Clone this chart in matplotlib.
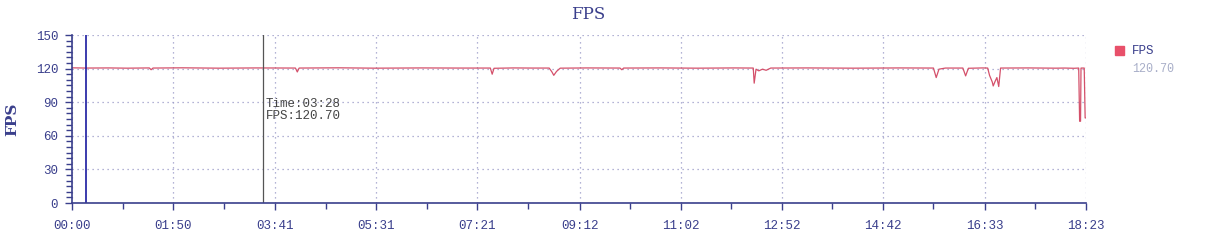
import matplotlib
matplotlib.use('Agg')
import matplotlib.pyplot as plt
from matplotlib.ticker import FixedLocator, MultipleLocator

# FPS samples (seconds since start, frames per second)
times = [0, 15, 40, 60, 84, 86, 88, 120, 160, 200, 243, 245, 247, 290, 330, 380, 420,
         455, 457, 459, 480, 500, 519, 522, 524, 527, 531, 560, 596, 598, 600, 640, 680,
         720, 741, 742, 744, 747, 751, 755, 760, 800, 850, 900, 937, 940, 943, 950,
         969, 972, 975, 990, 996, 998, 1001, 1002, 1004, 1006, 1008, 1010, 1040, 1070,
         1080, 1090, 1095, 1096, 1097, 1097.5, 1101, 1102, 1103]
fps = [120.7, 120.5, 120.6, 120.4, 120.6, 119.0, 120.5, 120.7, 120.4, 120.6, 120.5, 117.0,
       120.5, 120.7, 120.4, 120.6, 120.5, 120.5, 115.0, 120.3, 120.6, 120.5, 120.5, 117.0,
       114.0, 117.5, 120.4, 120.6, 120.5, 119.0, 120.5, 120.6, 120.4, 120.6, 120.5, 107.0,
       119.5, 118.0, 119.5, 118.5, 120.5, 120.6, 120.4, 120.6, 120.5, 112.0, 119.5, 120.5,
       120.5, 113.5, 120.3, 120.6, 120.5, 114.0, 108.0, 104.5, 108.5, 112.0, 104.0, 120.5,
       120.6, 120.4, 120.5, 120.3, 120.5, 73.0, 73.0, 120.5, 120.5, 76.0, 76.0]

tick_secs = [0, 110, 221, 331, 441, 552, 662, 772, 882, 993, 1103]
tick_labels = ['00:00', '01:50', '03:41', '05:31', '07:21', '09:12',
               '11:02', '12:52', '14:42', '16:33', '18:23']
cursor_sec = 208
cursor_fps = 120.70
start_marker = 15

axis_col = '#3a3f8c'
line_col = '#d4506a'

fig = plt.figure(figsize=(12.07, 2.45), dpi=100)
ax = fig.add_axes([0.0597, 0.1714, 0.8401, 0.6857])

ax.plot(times, fps, color=line_col, linewidth=0.9)
ax.axvline(start_marker, color='#1a1aa0', linewidth=1.2)
ax.axvline(cursor_sec, color='#555555', linewidth=0.9)
ax.text(cursor_sec + 3, 94, 'Time:03:28\nFPS:%.2f' % cursor_fps, fontsize=9,
        family='Liberation Mono', color='#444444', va='top', ha='left', linespacing=1.05)

ax.set_xlim(0, 1103)
ax.set_ylim(0, 150)
ax.xaxis.set_major_locator(FixedLocator(tick_secs))
ax.set_xticklabels(tick_labels)
ax.xaxis.set_minor_locator(FixedLocator([55, 165, 276, 386, 496, 607, 717, 827, 937, 1048]))
ax.yaxis.set_major_locator(MultipleLocator(30))
ax.yaxis.set_minor_locator(MultipleLocator(5))

ax.grid(True, which='major', linestyle=(0, (1, 3)), color='#9a9ac8', linewidth=0.9)
for s in ['top', 'right']:
    ax.spines[s].set_visible(False)
for s in ['left', 'bottom']:
    ax.spines[s].set_color(axis_col)
    ax.spines[s].set_linewidth(1.2)

ax.tick_params(which='major', direction='out', color=axis_col, length=5, width=1,
               labelcolor=axis_col, labelsize=9)
ax.tick_params(which='minor', direction='out', color=axis_col, length=4, width=1)
ax.tick_params(axis='x', pad=7)
ax.tick_params(axis='y', pad=5)
for lab in ax.get_xticklabels() + ax.get_yticklabels():
    lab.set_family('Liberation Mono')

ax.set_ylabel('FPS', color=axis_col, fontsize=11, fontweight='bold',
              family='DejaVu Serif', labelpad=12)
fig.text(0.4875, 0.94, 'FPS', color=axis_col, fontsize=12, family='DejaVu Serif',
         ha='center', va='center')

# legend
fig.patches.append(plt.Rectangle((0.9235, 0.775), 0.0075, 0.037, color='#e8506a',
                                 transform=fig.transFigure, figure=fig))
fig.text(0.938, 0.793, 'FPS', color=axis_col, fontsize=9, family='Liberation Mono', va='center')
fig.text(0.938, 0.718, '120.70', color='#a8aec8', fontsize=8.5, family='Liberation Mono',
         va='center')

fig.savefig('out.png', dpi=100)
